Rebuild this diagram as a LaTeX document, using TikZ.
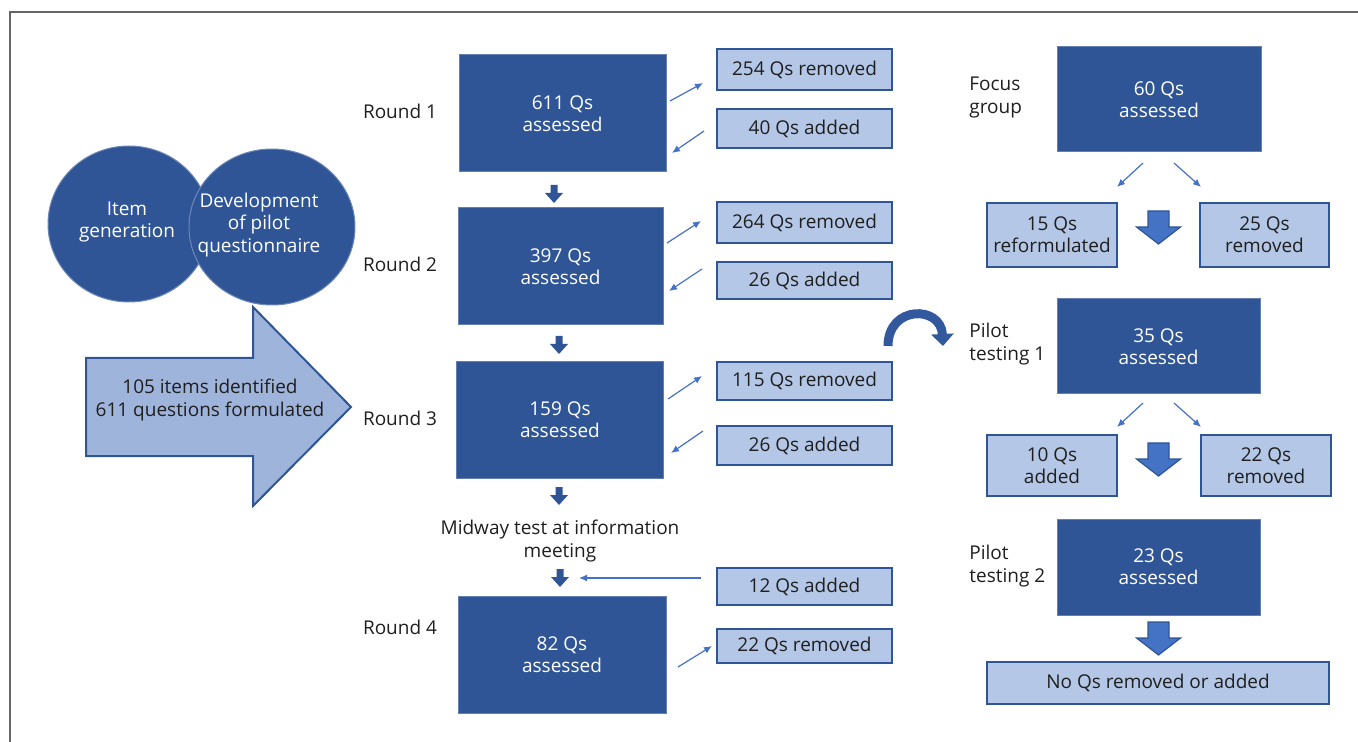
\documentclass[tikz,border=0pt]{standalone}
\usepackage{fontspec}
\setmainfont{Open Sans}
\usetikzlibrary{arrows.meta,positioning,calc,shapes.geometric}
\definecolor{navy}{HTML}{2F5597}
\definecolor{pale}{HTML}{B4C7E7}
\definecolor{bright}{HTML}{4472C4}
\definecolor{arrowfill}{HTML}{9FB4DB}

\begin{document}
\begin{tikzpicture}[x=0.5pt,y=-0.5pt,
    font=\fontsize{9.5}{11.2}\selectfont,
    qbox/.style={fill=navy, draw=navy!75!white, line width=0.5pt, text=white, align=center, inner sep=0pt},
    side/.style={fill=pale, draw=navy, line width=1pt, align=center, inner sep=0pt, text=black!88},
    lbl/.style={align=left, anchor=west, inner sep=0pt, text=black!88},
    blob/.style={ellipse, fill=navy, draw=navy!70!white, line width=0.5pt, inner sep=0pt},
    link/.style={bright, line width=0.6pt, -{Latex[length=4pt,width=3.5pt]}},
    bigdown/.pic={\filldraw[fill=bright, draw=navy, line width=0.6pt]
        (-10.5,0) -- (10.5,0) -- (10.5,16) -- (22,16) -- (0,33) -- (-22,16) -- (-10.5,16) -- cycle;},
    smalldown/.pic={\fill[navy]
        (-3.5,0) -- (3.5,0) -- (3.5,8) -- (9,8) -- (0,18) -- (-9,8) -- (-3.5,8) -- cycle;}
]
    \useasboundingbox (0,0) rectangle (1358,742);

    % Frame
    \draw[black!60, line width=1pt] (10,742) -- (10,12) -- (1358,12);

    % Item generation circles
    \node[blob, minimum width=81pt, minimum height=78pt] (item) at (129,224) {};
    \node[blob, minimum width=83pt, minimum height=78pt] (dev) at (272,227) {};
    \node[white, align=center] (itemtxt) at (127,222) {Item\\generation};
    \node[white, align=center] (devtxt) at (259,225) {Development\\of pilot\\questionnaire};

    % Big arrow
    \filldraw[fill=arrowfill, draw=navy, line width=1pt]
        (86,358) -- (253,358) -- (253,307) -- (351,407) -- (253,506) -- (253,456) -- (86,456) -- cycle;
    \node[align=center, text=black!88] (found) at (210,400) {105 items identified\\611 questions formulated};

    % Round labels
    \foreach \nm/\py/\txt in {lr1/111/Round 1, lr2/264/Round 2, lr3/418/Round 3, lr4/627/Round 4} {
        \node[text=black!88] (\nm) at (400,\py) {\txt};
    }

    % Round boxes
    \node[qbox, minimum width=103.5pt, minimum height=58.5pt] (r1) at (562.5,113.5) {611 Qs\\assessed};
    \node[qbox, minimum width=102.5pt, minimum height=58.5pt] (r2) at (560.5,266.5) {397 Qs\\assessed};
    \node[qbox, minimum width=103.5pt, minimum height=58pt] (r3) at (560,420) {159 Qs\\assessed};
    \node[qbox, minimum width=104pt, minimum height=58.5pt] (r4) at (562,654.5) {82 Qs\\assessed};
    \node[align=center, text=black!88] (meet) at (560,541) {Midway test at information\\meeting};

    % Removed / added boxes
    \foreach \nm/\py/\hh/\txt in {s1r/69.5/20.5/254 Qs removed, s1a/128.5/19.5/40 Qs added,
                                  s2r/222.5/20.5/264 Qs removed, s2a/280.5/18.5/26 Qs added,
                                  s3r/381/19/115 Qs removed, s3a/445.5/19.5/26 Qs added,
                                  s4a/586.5/18.5/12 Qs added, s4r/646/17/22 Qs removed} {
        \node[side, minimum width=87.5pt, minimum height=\hh pt] (\nm) at (804.5,\py) {\txt};
    }

    % Small down arrows
    \foreach \px/\py in {554/185, 559/336, 559/487, 560/569} {
        \pic at (\px,\py) {smalldown};
    }

    % Right column
    \node[qbox, minimum width=102pt, minimum height=52.5pt] (fg) at (1159,99.5) {60 Qs\\assessed};
    \node[qbox, minimum width=101.5pt, minimum height=47.5pt] (p1) at (1158.5,346.5) {35 Qs\\assessed};
    \node[qbox, minimum width=101.5pt, minimum height=48pt] (p2) at (1158.5,567) {23 Qs\\assessed};
    \node[lbl] (lfg) at (969,97.5) {Focus\\group};
    \node[lbl] (lp1) at (969,344) {Pilot\\testing 1};
    \node[lbl] (lp2) at (969,566) {Pilot\\testing 2};

    \node[side, minimum width=65pt, minimum height=32pt] (rf) at (1052,235) {15 Qs\\reformulated};
    \node[side, minimum width=64.5pt, minimum height=32pt] (rr) at (1264.5,235) {25 Qs\\removed};
    \node[side, minimum width=65pt, minimum height=30.5pt] (pa) at (1052,465.5) {10 Qs\\added};
    \node[side, minimum width=65pt, minimum height=30.5pt] (pr) at (1266,465.5) {22 Qs\\removed};
    \node[side, minimum width=171pt, minimum height=21pt] (final) at (1158,683) {No Qs removed or added};

    % Big down arrows
    \foreach \py in {211, 443, 622} {
        \pic at (1158.5,\py) {bigdown};
    }

    % Curved arrow to pilot testing
    \draw[navy!85!bright, line width=4.5pt, -{Triangle[width=11pt,length=6pt]}]
        (888,346) .. controls (888,305) and (941,305) .. (943,346);

    % Thin arrows
    \foreach \nm/\px/\py in {a1/670/101, b1/703/83, c1/704/131, d1/672/153,
                             a2/667/243, b2/701/221, c2/702/269, d2/669/291,
                             a3/668/399, b3/702/376, c3/703/431, d3/671/453,
                             c4/701/578, d4/579/578, a4/678/667, b4/712/646,
                             e1/1143/163, f1/1117/187, g1/1174/163, h1/1201/187,
                             e2/1143/403, f2/1117/427, g2/1174/403, h2/1201/427} {
        \coordinate (\nm) at (\px,\py);
    }
    \foreach \s/\t in {a1/b1, c1/d1, a2/b2, c2/d2, a3/b3, c3/d3, c4/d4, a4/b4,
                       e1/f1, g1/h1, e2/f2, g2/h2} {
        \draw[link] (\s) -- (\t);
    }
\end{tikzpicture}
\end{document}
